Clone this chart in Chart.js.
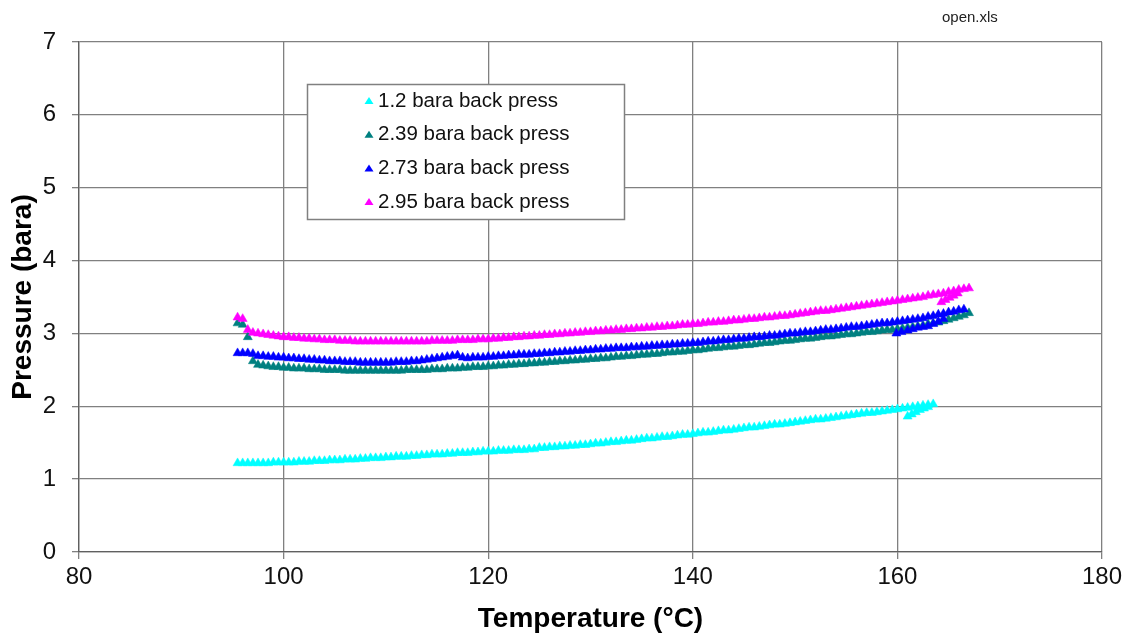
<!DOCTYPE html>
<html>
<head>
<meta charset="utf-8">
<script src="https://cdn.jsdelivr.net/npm/chart.js@4.4.1/dist/chart.umd.min.js"></script>
<style>
  body { margin: 0; background: #fff; }
  #wrap { width: 1130px; height: 637px; }
</style>
</head>
<body>
<div id="wrap"><canvas id="chart" width="1130" height="637"></canvas></div>
<script>
// temperature grid (°C) shared by the main runs
const temps = [
  95.5, 96, 96.5, 97, 97.5, 98, 98.5, 99, 99.5, 100,
  100.5, 101, 101.5, 102, 102.5, 103, 103.5, 104, 104.5, 105,
  105.5, 106, 106.5, 107, 107.5, 108, 108.5, 109, 109.5, 110,
  110.5, 111, 111.5, 112, 112.5, 113, 113.5, 114, 114.5, 115,
  115.5, 116, 116.5, 117, 117.5, 118, 118.5, 119, 119.5, 120,
  120.5, 121, 121.5, 122, 122.5, 123, 123.5, 124, 124.5, 125,
  125.5, 126, 126.5, 127, 127.5, 128, 128.5, 129, 129.5, 130,
  130.5, 131, 131.5, 132, 132.5, 133, 133.5, 134, 134.5, 135,
  135.5, 136, 136.5, 137, 137.5, 138, 138.5, 139, 139.5, 140,
  140.5, 141, 141.5, 142, 142.5, 143, 143.5, 144, 144.5, 145,
  145.5, 146, 146.5, 147, 147.5, 148, 148.5, 149, 149.5, 150,
  150.5, 151, 151.5, 152, 152.5, 153, 153.5, 154, 154.5, 155,
  155.5, 156, 156.5, 157, 157.5, 158, 158.5, 159, 159.5, 160,
  160.5, 161, 161.5, 162, 162.5, 163, 163.5, 164, 164.5, 165,
  165.5, 166, 166.5, 167
];

// 1.2 bara back press
const p120 = [
  1.22, 1.22, 1.22, 1.22, 1.22, 1.22, 1.22, 1.23, 1.23, 1.23,
  1.23, 1.23, 1.24, 1.24, 1.24, 1.25, 1.25, 1.25, 1.26, 1.26,
  1.26, 1.27, 1.27, 1.27, 1.28, 1.28, 1.29, 1.29, 1.29, 1.30,
  1.30, 1.31, 1.31, 1.31, 1.32, 1.32, 1.33, 1.33, 1.34, 1.34,
  1.34, 1.35, 1.35, 1.36, 1.36, 1.36, 1.37, 1.37, 1.38, 1.38,
  1.38, 1.39, 1.39, 1.39, 1.40, 1.40, 1.40, 1.41, 1.41, 1.43,
  1.43, 1.44, 1.44, 1.45, 1.45, 1.46, 1.46, 1.47, 1.47, 1.48,
  1.49, 1.49, 1.50, 1.51, 1.51, 1.52, 1.53, 1.53, 1.54, 1.55,
  1.56, 1.56, 1.57, 1.58, 1.58, 1.59, 1.60, 1.61, 1.61, 1.62,
  1.63, 1.64, 1.64, 1.65, 1.66, 1.67, 1.67, 1.68, 1.69, 1.70,
  1.71, 1.71, 1.72, 1.73, 1.74, 1.75, 1.75, 1.76, 1.77, 1.78,
  1.79, 1.80, 1.81, 1.82, 1.82, 1.83, 1.84, 1.85, 1.86, 1.87,
  1.88, 1.89, 1.90, 1.91, 1.91, 1.92, 1.93, 1.94, 1.95, 1.96,
  1.97, 1.98, 1.99, 2.00, 2.01, 2.02, 2.03
];
const p120HookT = [161.0, 161.4, 161.8, 162.2, 162.6, 163.0];
const p120HookP = [1.86, 1.89, 1.92, 1.95, 1.97, 1.99];

// 2.39 bara back press
const p239 = [
  3.14, 3.12, 2.95, 2.62, 2.57, 2.56, 2.55, 2.54, 2.54, 2.53,
  2.53, 2.52, 2.52, 2.52, 2.51, 2.51, 2.51, 2.50, 2.50, 2.50,
  2.50, 2.49, 2.49, 2.49, 2.49, 2.49, 2.49, 2.49, 2.49, 2.49,
  2.49, 2.49, 2.49, 2.50, 2.50, 2.50, 2.50, 2.50, 2.51, 2.51,
  2.51, 2.52, 2.52, 2.52, 2.53, 2.53, 2.54, 2.54, 2.54, 2.55,
  2.55, 2.56, 2.56, 2.57, 2.57, 2.58, 2.58, 2.59, 2.59, 2.60,
  2.60, 2.61, 2.61, 2.62, 2.62, 2.63, 2.63, 2.64, 2.64, 2.65,
  2.65, 2.66, 2.66, 2.67, 2.68, 2.68, 2.69, 2.69, 2.70, 2.71,
  2.71, 2.72, 2.72, 2.73, 2.74, 2.74, 2.75, 2.75, 2.76, 2.77,
  2.77, 2.78, 2.79, 2.80, 2.80, 2.81, 2.82, 2.82, 2.83, 2.84,
  2.84, 2.85, 2.86, 2.87, 2.87, 2.88, 2.89, 2.90, 2.90, 2.91,
  2.92, 2.93, 2.93, 2.94, 2.95, 2.96, 2.96, 2.97, 2.98, 2.99,
  2.99, 3.00, 3.01, 3.02, 3.02, 3.03, 3.04, 3.05, 3.05, 3.06,
  3.07, 3.08, 3.09, 3.10, 3.11, 3.13, 3.14, 3.15, 3.17, 3.19,
  3.21, 3.23, 3.25, 3.28
];

// 2.73 bara back press
const p273 = [
  2.73, 2.73, 2.73, 2.72, 2.69, 2.69, 2.68, 2.68, 2.67, 2.67,
  2.66, 2.66, 2.65, 2.65, 2.64, 2.64, 2.63, 2.63, 2.62, 2.62,
  2.62, 2.61, 2.61, 2.61, 2.60, 2.60, 2.60, 2.60, 2.60, 2.60,
  2.60, 2.61, 2.61, 2.61, 2.62, 2.62, 2.63, 2.64, 2.65, 2.66,
  2.67, 2.68, 2.69, 2.70, 2.67, 2.66, 2.67, 2.67, 2.67, 2.68,
  2.68, 2.69, 2.69, 2.70, 2.70, 2.71, 2.71, 2.71, 2.72, 2.72,
  2.73, 2.73, 2.74, 2.74, 2.75, 2.75, 2.76, 2.76, 2.77, 2.77,
  2.78, 2.78, 2.79, 2.79, 2.80, 2.80, 2.80, 2.81, 2.81, 2.82,
  2.82, 2.83, 2.83, 2.84, 2.84, 2.85, 2.85, 2.86, 2.86, 2.87,
  2.87, 2.88, 2.89, 2.89, 2.90, 2.91, 2.91, 2.92, 2.93, 2.93,
  2.94, 2.95, 2.95, 2.96, 2.97, 2.97, 2.98, 2.99, 3.00, 3.00,
  3.01, 3.02, 3.02, 3.03, 3.04, 3.05, 3.05, 3.06, 3.07, 3.08,
  3.09, 3.09, 3.10, 3.11, 3.12, 3.13, 3.14, 3.14, 3.15, 3.16,
  3.17, 3.18, 3.19, 3.20, 3.21, 3.23, 3.24, 3.26, 3.27, 3.29,
  3.30, 3.32, 3.33
];
const p273HookT = [159.9, 160.4, 161.0, 161.5, 162.0, 162.5, 163.0, 163.5, 164.0, 164.5];
const p273HookP = [3.00, 3.02, 3.04, 3.06, 3.08, 3.09, 3.10, 3.13, 3.16, 3.20];

// 2.95 bara back press
const p295 = [
  3.22, 3.20, 3.05, 3.01, 3.00, 2.99, 2.98, 2.97, 2.96, 2.95,
  2.95, 2.94, 2.94, 2.93, 2.93, 2.92, 2.92, 2.91, 2.91, 2.91,
  2.90, 2.90, 2.90, 2.89, 2.89, 2.89, 2.89, 2.89, 2.89, 2.89,
  2.89, 2.89, 2.89, 2.89, 2.89, 2.89, 2.89, 2.89, 2.90, 2.90,
  2.90, 2.90, 2.90, 2.91, 2.91, 2.91, 2.91, 2.92, 2.92, 2.92,
  2.93, 2.93, 2.94, 2.94, 2.95, 2.95, 2.96, 2.96, 2.97, 2.97,
  2.98, 2.98, 2.99, 2.99, 3.00, 3.00, 3.01, 3.01, 3.02, 3.02,
  3.03, 3.03, 3.04, 3.04, 3.05, 3.05, 3.06, 3.06, 3.07, 3.07,
  3.08, 3.08, 3.09, 3.09, 3.10, 3.10, 3.11, 3.12, 3.12, 3.13,
  3.13, 3.14, 3.15, 3.15, 3.16, 3.16, 3.17, 3.18, 3.18, 3.19,
  3.20, 3.20, 3.21, 3.22, 3.22, 3.23, 3.24, 3.24, 3.25, 3.26,
  3.27, 3.28, 3.29, 3.30, 3.31, 3.31, 3.32, 3.33, 3.34, 3.35,
  3.36, 3.37, 3.38, 3.39, 3.40, 3.41, 3.42, 3.43, 3.44, 3.45,
  3.46, 3.47, 3.48, 3.49, 3.50, 3.52, 3.53, 3.54, 3.55, 3.57,
  3.58, 3.60, 3.61, 3.62
];
const p295HookT = [164.3, 164.7, 165.1, 165.5, 165.9];
const p295HookP = [3.43, 3.46, 3.49, 3.52, 3.55];

const seriesLabels = [
  "1.2 bara back press",
  "2.39 bara back press",
  "2.73 bara back press",
  "2.95 bara back press"
];
const seriesColors = ["#00FFFF", "#008080", "#0000FF", "#FF00FF"];

const xTicks = [80, 100, 120, 140, 160, 180];
const yTicks = [0, 1, 2, 3, 4, 5, 6, 7];

function toPoints(ys, hookT, hookP) {
  const pts = ys.map((y, i) => ({ x: temps[i], y: y }));
  (hookT || []).forEach((t, i) => pts.push({ x: t, y: hookP[i] }));
  return pts;
}

const allSeries = [
  toPoints(p120, p120HookT, p120HookP),
  toPoints(p239),
  toPoints(p273, p273HookT, p273HookP),
  toPoints(p295, p295HookT, p295HookP)
];

const FONT = "'Liberation Sans', Arial, sans-serif";
const gridGrey = "#808080";

// legend box and file name, drawn on the canvas
const boxLegend = {
  id: "boxLegend",
  afterDatasetsDraw(chart) {
    const ctx = chart.ctx;
    ctx.save();
    ctx.fillStyle = "#fff";
    ctx.fillRect(307, 84, 317, 135);
    ctx.strokeStyle = "#808080";
    ctx.lineWidth = 1.5;
    ctx.strokeRect(307.5, 84.5, 317, 135);
    ctx.font = "20.5px " + FONT;
    ctx.textBaseline = "middle";
    seriesLabels.forEach((lab, i) => {
      const cy = 101 + i * 33.7;
      ctx.fillStyle = seriesColors[i];
      ctx.beginPath();
      ctx.moveTo(369, cy - 4);
      ctx.lineTo(373.5, cy + 3);
      ctx.lineTo(364.5, cy + 3);
      ctx.closePath();
      ctx.fill();
      ctx.fillStyle = "#111";
      ctx.textAlign = "left";
      ctx.fillText(lab, 378, cy);
    });
    ctx.font = "15px " + FONT;
    ctx.fillStyle = "#222";
    ctx.fillText("open.xls", 942, 18);
    ctx.restore();
  }
};

new Chart(document.getElementById("chart"), {
  type: "scatter",
  data: {
    datasets: allSeries.map((pts, i) => ({
      label: seriesLabels[i],
      data: pts,
      showLine: false,
      pointStyle: "triangle",
      pointRadius: 5.2,
      pointBorderWidth: 0.5,
      backgroundColor: seriesColors[i],
      borderColor: seriesColors[i],
      order: 4 - i
    }))
  },
  options: {
    responsive: false,
    animation: false,
    events: [],
    layout: { padding: { left: 0, right: 28, top: 42, bottom: 0 } },
    plugins: { legend: { display: false }, tooltip: { enabled: false } },
    scales: {
      x: {
        type: "linear",
        min: 80,
        max: 180,
        afterBuildTicks: (s) => { s.ticks = xTicks.map((v) => ({ value: v })); },
        afterFit: (s) => { s.height = 85; },
        grid: { color: gridGrey, lineWidth: 1.3, tickLength: 7 },
        border: { color: "#606060", width: 1.3 },
        ticks: { color: "#111", font: { family: FONT, size: 24 }, padding: 4, maxRotation: 0 },
        title: {
          display: true,
          text: "Temperature (°C)",
          color: "#000",
          font: { family: FONT, size: 28, weight: "bold" },
          padding: { top: 0, bottom: 1 }
        }
      },
      y: {
        type: "linear",
        min: 0,
        max: 7,
        afterBuildTicks: (s) => { s.ticks = yTicks.map((v) => ({ value: v })); },
        afterFit: (s) => { s.width = 79; },
        grid: { color: gridGrey, lineWidth: 1.3, tickLength: 7 },
        border: { color: "#606060", width: 1.3 },
        ticks: { color: "#111", font: { family: FONT, size: 24 }, padding: 16 },
        title: {
          display: true,
          text: "Pressure (bara)",
          color: "#000",
          font: { family: FONT, size: 28, weight: "bold" },
          padding: { top: 6, bottom: 0 }
        }
      }
    }
  },
  plugins: [boxLegend]
});
</script>
</body>
</html>
